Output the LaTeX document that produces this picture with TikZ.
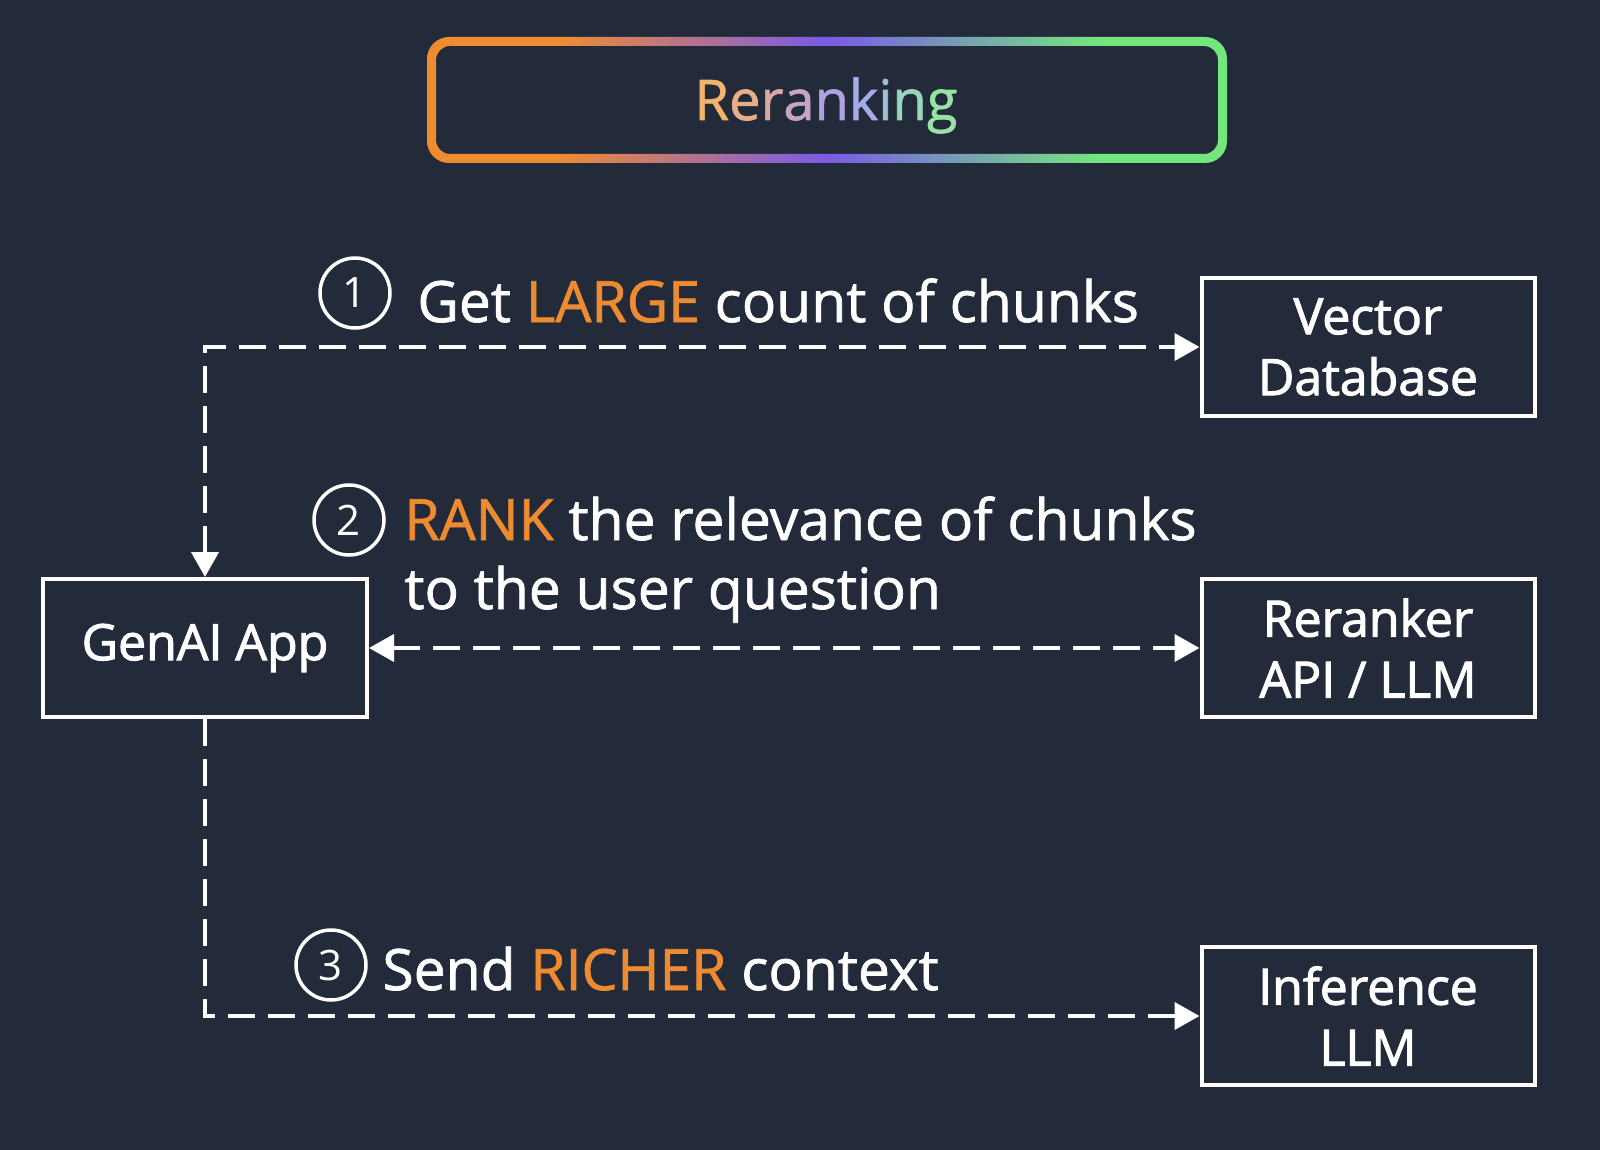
\documentclass[tikz,border=0pt]{standalone}
\usepackage{fontspec}
\setmainfont{Open Sans}
\newfontfamily\lblfont[FakeBold=1.2]{Open Sans}
\newfontfamily\boxfont[FakeBold=2]{Open Sans}
\usetikzlibrary{arrows.meta}
\definecolor{bg}{HTML}{232B3B}
\definecolor{hl}{HTML}{EE8B30}
\definecolor{tor}{HTML}{F08C30}
\definecolor{tpu}{HTML}{7A5AE8}
\definecolor{tgr}{HTML}{74E67E}
\definecolor{ca}{HTML}{F4B46C}
\definecolor{cb}{HTML}{E8AE8A}
\definecolor{cc}{HTML}{D8A8A2}
\definecolor{cd}{HTML}{C4A4C8}
\definecolor{ce}{HTML}{B0A2E2}
\definecolor{cf}{HTML}{A6AAE6}
\definecolor{cg}{HTML}{A0BED6}
\definecolor{ch}{HTML}{98D6BE}
\definecolor{ci}{HTML}{98E2A6}
\pgfdeclarehorizontalshading{rainbow}{100bp}{color(0bp)=(tor); color(33bp)=(tor); color(50bp)=(tpu); color(67bp)=(tgr); color(100bp)=(tgr)}
\begin{document}
\begin{tikzpicture}[x=0.5pt,y=-0.5pt,
  >={Triangle[length=12.5pt,width=13.5pt]},
  box/.style={draw=white, line width=2pt, minimum width=166.5pt, minimum height=69pt, inner sep=0pt, align=center, text=white, font=\boxfont\fontsize{25}{30.5}\selectfont},
  conn/.style={draw=white, line width=2pt, dash pattern=on 13.5pt off 6.5pt},
  num/.style={circle, draw=white, line width=1.75pt, minimum size=35pt, inner sep=0pt, text=white, font=\fontsize{21}{21}\selectfont},
  lbl/.style={anchor=base west, inner sep=0pt, text=white, align=left, font=\lblfont\fontsize{28.5}{34.5}\selectfont}]
\useasboundingbox (0,0) rectangle (1600,1150);
\fill[bg] (0,0) rectangle (1600,1150);
% title frame
\shade[shading=rainbow, even odd rule] [rounded corners=11pt] (427,37) rectangle (1227,163) [rounded corners=7pt] (436,46) rectangle (1218,154);
\node[anchor=base, inner sep=0pt, font=\lblfont\fontsize{28}{28}\selectfont] (title) at (826,120)
  {\textcolor{ca}{R}\textcolor{cb}{e}\textcolor{cc}{r}\textcolor{cd}{a}\textcolor{ce}{n}\textcolor{cf}{k}\textcolor{cg}{i}\textcolor{ch}{n}\textcolor{ci}{g}};
% boxes
\node[box] (vdb) at (1368,347) {Vector\\Database};
\node[box] (rr) at (1368,648) {Reranker\\API / LLM};
\node[box] (inf) at (1368,1016) {Inference\\LLM};
\node[box, minimum width=162pt] (app) at (205,648) {GenAI App};
% connectors
\draw[conn,<->] (app.north) |- (vdb.west);
\draw[conn,<->] (app.east) -- (rr.west);
\draw[conn,->] (app.south) |- (inf.west);
% labels
\node[num] (n1) at (355,293) {1};
\node[lbl] (l1) at (417,322) {Get \textcolor{hl}{LARGE} count of chunks};
\node[num] (n2) at (349,520) {2};
\node[lbl] (l2) at (404,609) {\textcolor{hl}{RANK} the relevance of chunks\\to the user question};
\node[num] (n3) at (331,965) {3};
\node[lbl] (l3) at (382,990) {Send \textcolor{hl}{RICHER} context};
\end{tikzpicture}
\end{document}
